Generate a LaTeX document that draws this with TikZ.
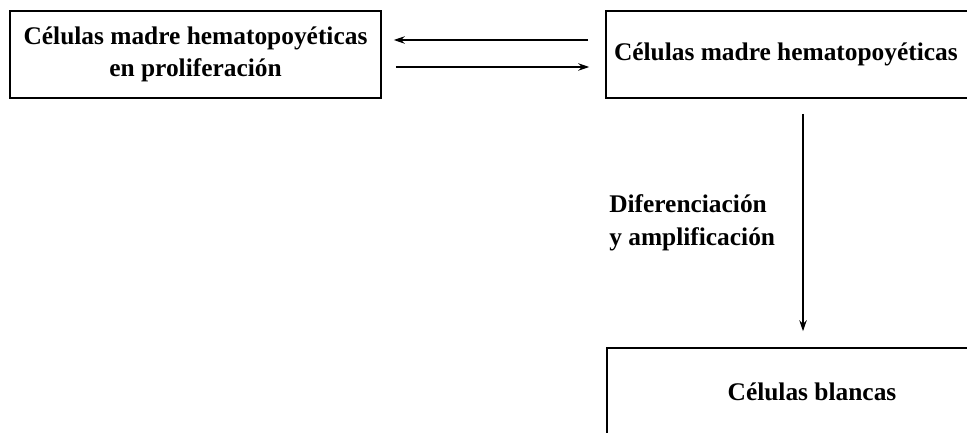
\documentclass[tikz,border=0pt]{standalone}
\usepackage{fontspec}
\setmainfont{Liberation Serif}
\usetikzlibrary{arrows.meta}

\begin{document}
\begin{tikzpicture}[x=1pt,y=-1pt,
  caja/.style={draw, line width=1.6pt, minimum height=87pt, inner sep=0pt, font=\fontsize{25.4}{32}\selectfont\bfseries},
  flecha/.style={line width=1.2pt, -{Stealth[length=11pt,width=7.5pt]}}]
\useasboundingbox (0,0) rectangle (967,433);
\node[caja, minimum width=371pt, align=center] (prolif) at (195.5,54.5) {Células madre hematopoyéticas\\en proliferación};
\node[caja, text width=378pt, inner xsep=8pt, align=flush left] (hsc) at (803,54.5) {Células madre hematopoyéticas};
\node[caja, minimum width=410pt, minimum height=88pt] (blancas) at (812,392) {Células blancas};
\draw[flecha, shorten <=17pt, shorten >=12pt] ([yshift=14.5pt]hsc.west) -- ([yshift=14.5pt]prolif.east);
\draw[flecha, shorten <=14pt, shorten >=16pt] ([yshift=-12.5pt]prolif.east) -- ([yshift=-12.5pt]hsc.west);
\draw[flecha, shorten <=15pt, shorten >=16pt] (hsc.south) -- (hsc.south |- blancas.north)
  node[midway, left=24pt, align=flush left, font=\fontsize{25.4}{33}\selectfont\bfseries] {Diferenciación\\y amplificación};
\end{tikzpicture}
\end{document}
